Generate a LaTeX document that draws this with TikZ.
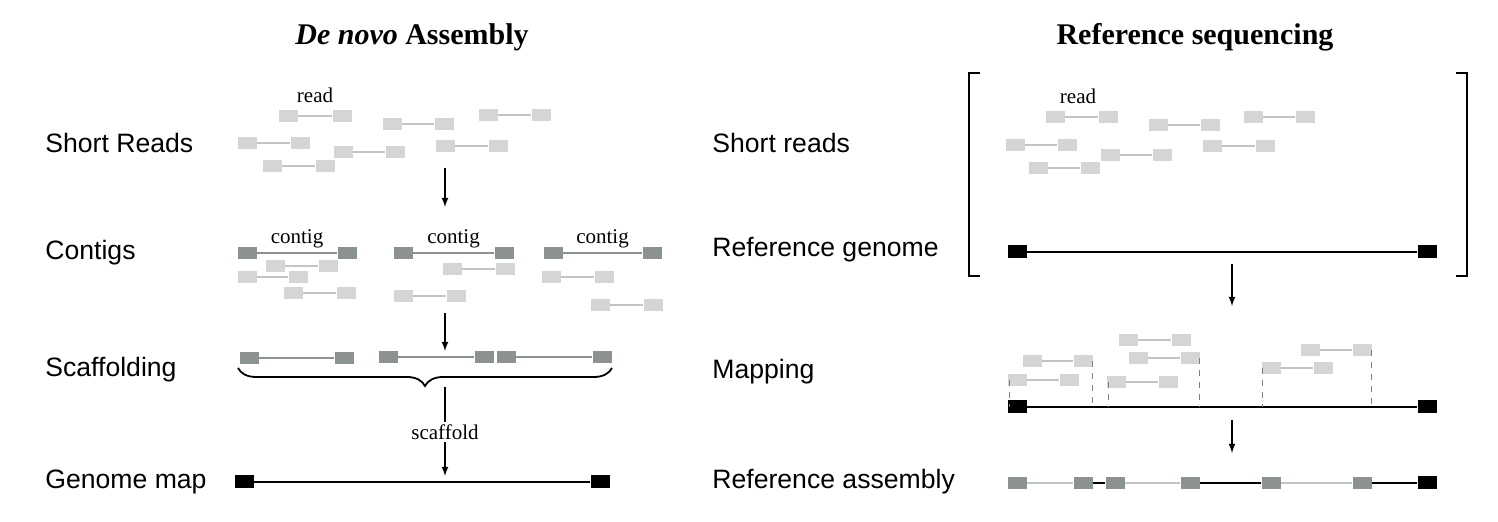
\documentclass[tikz,border=0pt]{standalone}
\usepackage{fontspec}
\setmainfont{Liberation Serif}
\newfontfamily\lab{Liberation Sans}
\usetikzlibrary{arrows,decorations.pathreplacing}
\definecolor{readgray}{HTML}{D3D6D5}
\definecolor{contgray}{HTML}{8C9290}
\tikzstyle{rd}=[rectangle, fill=readgray, minimum width=9.5pt, minimum height=6pt, inner sep=0pt]
\tikzstyle{ct}=[rectangle, fill=contgray, minimum width=9.5pt, minimum height=6pt, inner sep=0pt]
\tikzstyle{gn}=[rectangle, fill=black, minimum width=9.5pt, minimum height=6.5pt, inner sep=0pt]
\tikzstyle{rowlabel}=[anchor=west, font=\lab\fontsize{13.3}{15}\selectfont, inner sep=0pt]
\tikzstyle{title}=[font=\bfseries\fontsize{15}{17}\selectfont]
\tikzstyle{small}=[text=black, font=\fontsize{10.5}{12}\selectfont, inner sep=1pt]
\tikzstyle{rdline}=[readgray!80!gray, line width=0.6pt]
\tikzstyle{ctline}=[contgray, line width=0.9pt]
\tikzstyle{gnline}=[black, line width=1.1pt]
\tikzstyle{flow}=[-latex, line width=0.6pt]

\begin{document}
\begin{tikzpicture}[x=0.5pt,y=-0.5pt]
\useasboundingbox (0,0) rectangle (1498,522);
%Titles
\node[title] (t1) at (412,37){\textit{De novo} Assembly};
\node[title] (t2) at (1195,37){Reference sequencing};
%Row labels
\node[rowlabel] (l1) at (45,143){Short Reads};
\node[rowlabel] (l2) at (45,253){Contigs};
\node[rowlabel] (l3) at (45,370){Scaffolding};
\node[rowlabel] (l4) at (45,482){Genome map};
\node[rowlabel] (r1) at (712,143){Short reads};
\node[rowlabel] (r2) at (712,250){Reference genome};
\node[rowlabel] (r3) at (712,372){Mapping};
\node[rowlabel] (r4) at (712,482){Reference assembly};

%Short reads (left)
\node[small] (rdl) at (315,95){read};
\foreach \a/\b/\y [count=\i] in {288/342/116, 392/444/124, 488/541/115, 247/300/143,
  343/395/152, 445/498/146, 272/325/166}{
  \node[rd] (la\i) at (\a,\y){};
  \node[rd] (lb\i) at (\b,\y){};
  \draw[rdline] (la\i) -- (lb\i);
}
\coordinate (s1) at (445,168);
\coordinate (e1) at (445,207);
\draw[flow] (s1) -- (e1);

%Contigs
\foreach \a/\b [count=\i] in {247/347, 403/504, 553/652}{
  \node[ct] (ca\i) at (\a,253){};
  \node[ct] (cb\i) at (\b,253){};
  \draw[ctline] (ca\i) -- node[small, above=1pt]{contig} (cb\i);
}
\foreach \a/\b/\y [count=\i] in {275/328/266, 247/298/277, 293/346/293, 452/505/269,
  403/456/296, 551/604/277, 600/653/305}{
  \node[rd] (ma\i) at (\a,\y){};
  \node[rd] (mb\i) at (\b,\y){};
  \draw[rdline] (ma\i) -- (mb\i);
}
\coordinate (s2) at (445,313);
\coordinate (e2) at (445,351);
\draw[flow] (s2) -- (e2);

%Scaffolding
\foreach \a/\b/\y [count=\i] in {249/344/358, 388/484/357, 506/602/357}{
  \node[ct] (sa\i) at (\a,\y){};
  \node[ct] (sb\i) at (\b,\y){};
  \draw[ctline] (sa\i) -- (sb\i);
}
\coordinate (br1) at (238,368);
\coordinate (br2) at (612,368);
\draw[line width=0.9pt, decorate, decoration={brace, mirror, amplitude=9pt}] (br1) -- (br2);
\node[small] (sc) at (445,432){scaffold};
\coordinate (bt) at (445,387);
\draw[line width=0.6pt] (bt) -- (sc);
\coordinate (e3) at (445,476);
\draw[flow] (sc) -- (e3);

%Genome map
\node[gn] (g1) at (244,482){};
\node[gn] (g2) at (600,482){};
\draw[gnline] (g1) -- (g2);

%Short reads (right)
\coordinate (bl1) at (980,73);
\coordinate (bl2) at (980,276);
\draw[line width=1.1pt] (bl1) -- ++(-11,0) -- ++(0,203) -- (bl2);
\coordinate (bq1) at (1456,73);
\coordinate (bq2) at (1456,276);
\draw[line width=1.1pt] (bq1) -- ++(11,0) -- ++(0,203) -- (bq2);
\node[small] (rdr) at (1078,96){read};
\foreach \a/\b/\y [count=\i] in {1055/1108/117, 1158/1210/125, 1253/1305/117, 1015/1067/145,
  1110/1162/155, 1212/1265/146, 1038/1090/168}{
  \node[rd] (ra\i) at (\a,\y){};
  \node[rd] (rb\i) at (\b,\y){};
  \draw[rdline] (ra\i) -- (rb\i);
}
\node[gn] (h1) at (1017,252){};
\node[gn] (h2) at (1427,252){};
\draw[gnline] (h1) -- (h2);
\coordinate (s4) at (1232,264);
\coordinate (e4) at (1232,306);
\draw[flow] (s4) -- (e4);

%Mapping
\node[gn] (k1) at (1017,407){};
\node[gn] (k2) at (1427,407){};
\draw[gnline] (k1) -- (k2);
\foreach \a/\b/\y [count=\i] in {1128/1181/340, 1032/1083/361, 1138/1190/358, 1017/1069/380,
  1116/1168/382, 1310/1362/350, 1271/1323/368}{
  \node[rd] (pa\i) at (\a,\y){};
  \node[rd] (pb\i) at (\b,\y){};
  \draw[rdline] (pa\i) -- (pb\i);
}
\foreach \x/\y in {1009/380, 1092/361, 1108/382, 1199/358, 1262/368, 1371/350}{
  \draw[gray, dashed, line width=0.5pt] (\x,\y) -- (\x,407);
}
\coordinate (s5) at (1232,420);
\coordinate (e5) at (1232,453);
\draw[flow] (s5) -- (e5);

%Reference assembly
\foreach \x [count=\i] in {1017,1083,1115,1190,1271,1362}{
  \node[ct] (q\i) at (\x,483){};
}
\node[gn] (q7) at (1427,483){};
\draw[rdline] (q1) -- (q2);
\draw[gnline] (q2) -- (q3);
\draw[rdline] (q3) -- (q4);
\draw[gnline] (q4) -- (q5);
\draw[rdline] (q5) -- (q6);
\draw[gnline] (q6) -- (q7);
\end{tikzpicture}
\end{document}
